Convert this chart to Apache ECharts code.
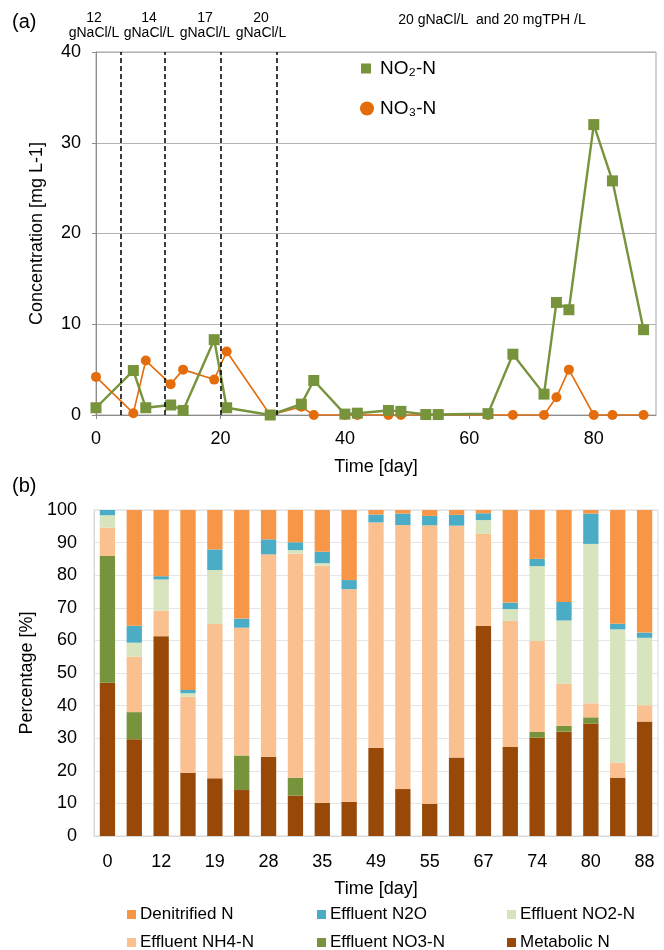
<!DOCTYPE html>
<html>
<head>
<meta charset="utf-8">
<script src="https://cdn.jsdelivr.net/npm/echarts@6/dist/echarts.min.js"></script>
<style>
html,body{margin:0;padding:0;background:#fff;}
#chart{width:664px;height:950px;}
</style>
</head>
<body>
<div id="chart"></div>
<script>
// ---------- Panel (a) data ----------
const lineDays = [0,6,8,12,14,19,21,28,33,35,40,42,47,49,53,55,63,67,72,74,76,80,83,88];
const no2Values = [0.8,4.9,0.8,1.1,0.5,8.3,0.8,0.0,1.2,3.8,0.1,0.2,0.5,0.4,0.05,0.05,0.15,6.7,2.3,12.4,11.6,32.0,25.8,9.4];
const no3Values = [4.2,0.2,6.0,3.4,5.0,3.9,7.0,0.0,0.9,0.0,0.0,0.0,0.0,0.0,0.0,0.0,0.0,0.0,0.0,1.95,5.0,0.0,0.0,0.0];
const phaseBoundaries = [4, 11, 20, 29];
const phaseLabels = ['12\ngNaCl/L', '14\ngNaCl/L', '17\ngNaCl/L', '20\ngNaCl/L'];
const finalPhaseLabel = '20 gNaCl/L  and 20 mgTPH /L';

// ---------- Panel (b) data ----------
const barDays = ['0','6','12','14','19','21','28','33','35','42','49','53','55','63','67','72','74','76','80','83','88'];
const metabolicN   = [47.0,29.7,61.3,19.4,17.7,14.1,24.3,12.4,10.2,10.5,27.1,14.4,9.9,24.1,64.4,27.3,30.2,32.0,34.5,17.9,35.1];
const effluentNO3  = [38.9,8.3,0,0,0,10.6,0,5.5,0,0,0,0,0,0,0,0,1.7,1.8,1.9,0,0];
const effluentNH4  = [8.7,17.0,7.8,23.3,47.3,39.2,62.1,68.7,72.7,65.2,69.1,81.0,85.4,71.1,28.3,38.7,27.9,12.9,4.3,4.6,5.0];
const effluentNO2  = [3.8,4.3,9.6,1.1,16.6,0,0,1.1,0.8,0,0,0,0,0,4.2,3.6,23.0,19.4,48.9,40.9,20.7];
const effluentN2O  = [1.6,5.2,1.0,1.0,6.3,2.8,4.6,2.4,3.5,2.8,2.4,3.5,2.9,3.3,2.1,2.0,2.2,5.7,9.3,1.7,1.6];
const denitrifiedN = [0,35.5,20.3,55.2,12.1,33.3,9.0,9.9,12.8,21.5,1.4,1.1,1.8,1.5,1.0,28.4,15.0,28.2,1.1,34.9,37.6];
const barLegendOrder = ['Denitrified N','Effluent N2O','Effluent NO2-N','Effluent NH4-N','Effluent NO3-N','Metabolic N'];

const FONT = '"Liberation Sans", Arial, Helvetica, sans-serif';
const chart = echarts.init(document.getElementById('chart'), null, {renderer: 'canvas'});

const pairs = (xs, ys) => xs.map((x, i) => [x, ys[i]]);

const barSeries = [
  ['Metabolic N', metabolicN, '#984807'],
  ['Effluent NO3-N', effluentNO3, '#77933C'],
  ['Effluent NH4-N', effluentNH4, '#FAC090'],
  ['Effluent NO2-N', effluentNO2, '#D7E4BD'],
  ['Effluent N2O', effluentN2O, '#4BACC6'],
  ['Denitrified N', denitrifiedN, '#F79646']
].map(([name, data, color]) => ({
  name, type: 'bar', stack: 'total', data,
  xAxisIndex: 1, yAxisIndex: 1,
  barWidth: '57%',
  itemStyle: {color},
  emphasis: {disabled: true}
}));

const legendText = {fontFamily: FONT, fontSize: 17, color: '#000', padding: [0,0,0,-1]};
const barLegends = barLegendOrder.map((name, i) => ({
  left: [127, 317, 507][i % 3], top: i < 3 ? 906 : 934,
  orient: 'horizontal', itemWidth: 9, itemHeight: 9, padding: 0,
  data: [{name, icon: 'rect'}], selectedMode: false, textStyle: legendText
}));

const option = {
  animation: false,
  backgroundColor: '#fff',
  textStyle: {fontFamily: FONT},
  grid: [
    {left: 96, right: 8, top: 52, height: 363, show: true, borderColor: '#a6a6a6', borderWidth: 1, backgroundColor: 'transparent'},
    {left: 94, right: 6, top: 510, height: 326, show: true, borderColor: '#d9d9d9', borderWidth: 1, backgroundColor: 'transparent'}
  ],
  xAxis: [
    {
      type: 'value', gridIndex: 0, min: 0, max: 90, interval: 20,
      name: 'Time [day]', nameLocation: 'middle', nameGap: 43,
      nameTextStyle: {fontSize: 18, color: '#000', fontFamily: FONT},
      axisLine: {show: true, lineStyle: {color: '#8c8c8c', width: 1}},
      axisTick: {show: true, length: 4, lineStyle: {color: '#8c8c8c'}},
      axisLabel: {fontSize: 18, color: '#000', margin: 15, fontFamily: FONT, showMaxLabel: false},
      splitLine: {show: false}
    },
    {
      type: 'category', gridIndex: 1, data: barDays,
      name: 'Time [day]', nameLocation: 'middle', nameGap: 44,
      nameTextStyle: {fontSize: 18, color: '#000', fontFamily: FONT},
      axisLine: {show: true, lineStyle: {color: '#d9d9d9', width: 1}},
      axisTick: {show: false},
      axisLabel: {fontSize: 18, color: '#000', margin: 17, interval: 1, fontFamily: FONT},
      splitLine: {show: false}
    }
  ],
  yAxis: [
    {
      type: 'value', gridIndex: 0, min: 0, max: 40, interval: 10,
      name: 'Concentration [mg L-1]', nameLocation: 'middle', nameGap: 50, nameRotate: 90,
      nameTextStyle: {fontSize: 18, color: '#000', fontFamily: FONT},
      axisLine: {show: true, lineStyle: {color: '#8c8c8c', width: 1}},
      axisTick: {show: true, length: 4, lineStyle: {color: '#8c8c8c'}},
      axisLabel: {fontSize: 18, color: '#000', margin: 15, fontFamily: FONT},
      splitLine: {show: true, lineStyle: {color: '#b3b3b3', width: 1}}
    },
    {
      type: 'value', gridIndex: 1, min: 0, max: 100, interval: 10,
      name: 'Percentage [%]', nameLocation: 'middle', nameGap: 50, nameRotate: 90,
      nameTextStyle: {fontSize: 18, color: '#000', fontFamily: FONT},
      axisLine: {show: true, lineStyle: {color: '#d9d9d9', width: 1}},
      axisTick: {show: false},
      axisLabel: {fontSize: 18, color: '#000', margin: 17, fontFamily: FONT},
      splitLine: {show: true, lineStyle: {color: '#e6e6e6', width: 1}}
    }
  ],
  legend: [
    {left: 356, top: 54, orient: 'vertical', itemWidth: 10, itemHeight: 10, itemGap: 0,
     data: [{name: 'NO₂-N', icon: 'rect'}], selectedMode: false,
     textStyle: {fontFamily: FONT, fontSize: 19, color: '#000', padding: [0,0,0,4]}},
    {left: 355, top: 94, orient: 'vertical', itemWidth: 14, itemHeight: 14, itemGap: 0,
     data: [{name: 'NO₃-N', icon: 'circle'}], selectedMode: false,
     textStyle: {fontFamily: FONT, fontSize: 19, color: '#000', padding: [0,0,0,1]}},
    ...barLegends
  ],
  graphic: [
    {type: 'text', left: 12, top: 12, style: {text: '(a)', fontSize: 20, fontFamily: FONT, fill: '#000'}},
    {type: 'text', left: 12, top: 476, style: {text: '(b)', fontSize: 20, fontFamily: FONT, fill: '#000'}},
    ...phaseLabels.map((t, i) => ({
      type: 'text', x: [94, 149, 205, 261][i], y: 11,
      style: {text: t, fontSize: 14, fontFamily: FONT, fill: '#000', align: 'center', lineHeight: 15}
    })),
    {type: 'text', x: 492, y: 13, style: {text: finalPhaseLabel, fontSize: 14, fontFamily: FONT, fill: '#000', align: 'center'}}
  ],
  series: [
    {
      name: 'NO₃-N', type: 'line', xAxisIndex: 0, yAxisIndex: 0,
      data: pairs(lineDays, no3Values),
      symbol: 'circle', symbolSize: 10,
      lineStyle: {color: '#E46C0A', width: 1.6},
      itemStyle: {color: '#E46C0A'},
      emphasis: {disabled: true},
      markLine: {
        silent: true, symbol: ['none', 'none'],
        label: {show: false},
        lineStyle: {color: '#000', type: [5, 3], width: 1.5},
        data: phaseBoundaries.map(d => ({xAxis: d}))
      }
    },
    {
      name: 'NO₂-N', type: 'line', xAxisIndex: 0, yAxisIndex: 0,
      data: pairs(lineDays, no2Values),
      symbol: 'rect', symbolSize: 11,
      lineStyle: {color: '#77933C', width: 2.4},
      itemStyle: {color: '#77933C'},
      emphasis: {disabled: true}
    },
    ...barSeries
  ]
};
chart.setOption(option);
</script>
</body>
</html>
